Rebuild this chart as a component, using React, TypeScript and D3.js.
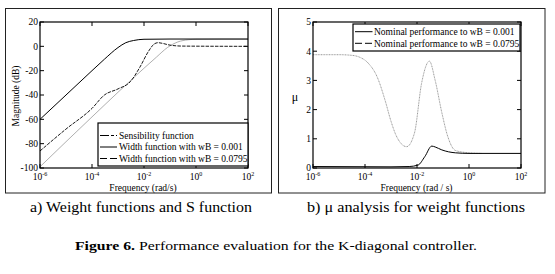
import React from "react";
import * as d3 from "d3";

// ---- data ----
const xTickExps = [-6, -4, -2, 0, 2];
const leftYTicks = [-100, -80, -60, -40, -20, 0, 20];
const rightYTicks = [0, 1, 2, 3, 4, 5];

// left panel: magnitude (dB) vs frequency (rad/s)
const weight001: [number, number][] = [
  [1e-6, -60], [1e-5, -40], [1e-4, -20], [3e-4, -10.6], [1e-3, -1], [2e-3, 3],
  [4e-3, 4.8], [1e-2, 5.8], [1e-1, 6], [1e2, 6],
];
const weight0795: [number, number][] = [
  [1e-6, -99], [1e-4, -58], [1e-2, -18], [3e-2, -8.9], [7.95e-2, -1], [0.2, 3.6],
  [0.5, 5.4], [1, 5.8], [10, 6], [1e2, 6],
];
const sensibility: [number, number][] = [
  [1e-6, -86], [1e-5, -68], [1e-4, -51], [3e-4, -40], [1e-3, -35], [3e-3, -29],
  [7e-3, -17], [1.5e-2, -4], [2.5e-2, 2], [3.5e-2, 3], [5e-2, 2.5], [1e-1, 1],
  [0.3, 0.2], [1e2, 0],
];

// right panel: mu vs frequency
const muWB0795: [number, number][] = [
  [1e-6, 3.88], [1e-5, 3.88], [3e-5, 3.86], [6e-5, 3.8], [1.3e-4, 3.6], [3e-4, 3.1],
  [6e-4, 2.3], [1e-3, 1.6], [1.6e-3, 1.1], [4e-3, 0.73], [8e-3, 1.2], [1.5e-2, 2.9],
  [3e-2, 3.66], [5e-2, 3.0], [9e-2, 1.9], [1.5e-1, 1.1], [3e-1, 0.6], [1, 0.52], [3, 0.5],
];
const muWB001: [number, number][] = [
  [1e-6, 0.05], [1e-3, 0.04], [5e-3, 0.05], [1.1e-2, 0.1], [2e-2, 0.39], [3.7e-2, 0.75],
  [5e-2, 0.72], [9e-2, 0.62], [0.3, 0.52], [1, 0.5], [1e2, 0.5],
];

const leftLegend = [
  "Sensibility function",
  "Width function with wB = 0.001",
  "Width function with wB = 0.0795",
];
const rightLegend = [
  "Nominal performance to wB = 0.001",
  "Nominal performance to wB = 0.0795",
];

const FONT = "Liberation Serif, DejaVu Serif, serif";
const fs = (size: number, extra: React.CSSProperties = {}): React.CSSProperties => ({ fontFamily: FONT, fontSize: size + "px", ...extra });

function Ticks({ x, y, yTicks }: { x: d3.ScaleLogarithmic<number, number>; y: d3.ScaleLinear<number, number>; yTicks: number[] }) {
  const [x0, x1] = x.range();
  const [y0, y1] = y.range();
  const L = 4;
  return (
    <g stroke="#000" strokeWidth={1}>
      {xTickExps.map((e) => {
        const px = x(Math.pow(10, e));
        return (
          <g key={"x" + e}>
            <line x1={px} x2={px} y1={y0} y2={y0 - L} />
            <line x1={px} x2={px} y1={y1} y2={y1 + L} />
          </g>
        );
      })}
      {yTicks.map((t) => {
        const py = y(t);
        return (
          <g key={"y" + t}>
            <line x1={x0} x2={x0 + L} y1={py} y2={py} />
            <line x1={x1} x2={x1 - L} y1={py} y2={py} />
          </g>
        );
      })}
    </g>
  );
}

function TickLabels({ x, y, yTicks }: { x: d3.ScaleLogarithmic<number, number>; y: d3.ScaleLinear<number, number>; yTicks: number[] }) {
  const [x0] = x.range();
  const [y0] = y.range();
  return (
    <g fill="#000">
      {xTickExps.map((e) => (
        <text key={"xl" + e} x={x(Math.pow(10, e))} y={y0 + 12} textAnchor="middle" style={fs(9.5)}>
          10<tspan dy={-4} style={fs(6)}>{String(e)}</tspan>
        </text>
      ))}
      {yTicks.map((t) => (
        <text key={"yl" + t} x={x0 - 2} y={y(t) + 3.3} textAnchor="end" style={fs(9.5)}>
          {String(t)}
        </text>
      ))}
    </g>
  );
}

export default function App() {
  // left panel
  const xL = d3.scaleLog().domain([1e-6, 1e2]).range([40, 248]);
  const yL = d3.scaleLinear().domain([-100, 20]).range([168, 22]);
  // right panel
  const xR = d3.scaleLog().domain([1e-6, 1e2]).range([313, 521]);
  const yR = d3.scaleLinear().domain([0, 5]).range([168, 22]);

  const lineL = d3.line<[number, number]>().x((d) => xL(d[0])).y((d) => yL(d[1])).curve(d3.curveMonotoneX);
  const lineR = d3.line<[number, number]>().x((d) => xR(d[0])).y((d) => yR(d[1])).curve(d3.curveMonotoneX);

  return (
    <svg width={555} height={274} style={{ position: "absolute", left: 0, top: 0, background: "#fff" }}>
      <rect x={0} y={0} width={555} height={274} fill="#fff" />
      {/* outer frames */}
      <rect x={5.5} y={8.5} width={266} height={184.5} fill="none" stroke="#222" strokeWidth={1} />
      <rect x={278.5} y={8.5} width={266.5} height={184.5} fill="none" stroke="#222" strokeWidth={1} />

      <defs>
        <clipPath id="clipL"><rect x={40} y={22} width={208} height={146} /></clipPath>
        <clipPath id="clipR"><rect x={313} y={22} width={208} height={146} /></clipPath>
      </defs>

      {/* ---------- left panel ---------- */}
      <g clipPath="url(#clipL)" fill="none">
        <path d={lineL(weight0795) || ""} stroke="#9a9a9a" strokeWidth={0.8} />
        <path d={lineL(sensibility) || ""} stroke="#000" strokeWidth={0.9} strokeDasharray="3.5,1.2" />
        <path d={lineL(weight001) || ""} stroke="#000" strokeWidth={1} />
      </g>
      <Ticks x={xL} y={yL} yTicks={leftYTicks} />
      <rect x={40} y={22} width={208} height={146} fill="none" stroke="#000" strokeWidth={1.2} />
      <TickLabels x={xL} y={yL} yTicks={leftYTicks} />

      {/* left legend */}
      <g>
        <rect x={98} y={123} width={150} height={43} fill="#fff" stroke="#000" strokeWidth={1.2} />
        {leftLegend.map((t, i) => {
          const ly = 135.5 + i * 11.5;
          const dash = i === 0 ? "9,2,3,2" : i === 2 ? "7,3" : undefined;
          return (
            <g key={t}>
              <line x1={100} x2={117} y1={ly} y2={ly} stroke="#000" strokeWidth={1} strokeDasharray={dash} />
              <text x={119} y={ly + 3.2} style={fs(9.5)}>{t}</text>
            </g>
          );
        })}
      </g>

      <text transform="translate(19,96) rotate(-90)" textAnchor="middle" style={fs(9.5)}>Magnitude (dB)</text>
      <text x={143} y={191} textAnchor="middle" style={fs(9.5)}>Frequency (rad/s)</text>

      {/* ---------- right panel ---------- */}
      <g clipPath="url(#clipR)" fill="none">
        <path d={lineR(muWB0795) || ""} stroke="#9a9a9a" strokeWidth={1} strokeDasharray="1,0.6" />
        <path d={lineR(muWB001) || ""} stroke="#000" strokeWidth={1} />
      </g>
      <Ticks x={xR} y={yR} yTicks={rightYTicks} />
      <rect x={313} y={22} width={208} height={146} fill="none" stroke="#000" strokeWidth={1.2} />
      <TickLabels x={xR} y={yR} yTicks={rightYTicks} />

      <g>
        <rect x={353} y={24} width={167} height={27} fill="#fff" stroke="#000" strokeWidth={1.2} />
        {rightLegend.map((t, i) => {
          const ly = 31.7 + i * 11.6;
          return (
            <g key={t}>
              <line x1={355} x2={372.5} y1={ly} y2={ly} stroke="#000" strokeWidth={1} strokeDasharray={i === 1 ? "7,3" : undefined} />
              <text x={374} y={ly + 3.2} style={fs(9.5)}>{t}</text>
            </g>
          );
        })}
      </g>

      <text x={295} y={101} textAnchor="middle" style={fs(12)}>μ</text>
      <text x={416.5} y={191} textAnchor="middle" style={fs(9.5)}>Frequency (rad / s)</text>

      {/* ---------- captions ---------- */}
      <text x={30} y={212} style={fs(15)} textLength={222} lengthAdjust="spacingAndGlyphs">a) Weight functions and S function</text>
      <text x={307} y={212} style={fs(15)} textLength={218} lengthAdjust="spacingAndGlyphs">b)  μ analysis for weight functions</text>
      <text x={75} y={250} style={fs(13.5)} textLength={402} lengthAdjust="spacingAndGlyphs">
        <tspan fontWeight="bold">Figure 6.</tspan> Performance evaluation for the K-diagonal controller.
      </text>
    </svg>
  );
}
